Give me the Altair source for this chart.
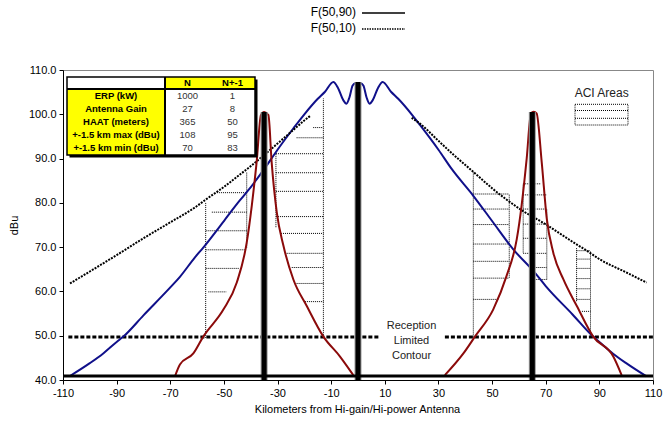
import altair as alt
import pandas as pd

FONT = "Liberation Sans"

# ---------------- field-strength curves (km, dBu) ----------------
# Hi-gain / hi-power station N at 0 km, F(50,90)
blue_km = [-107.4, -100, -95, -90, -87.5, -80, -70, -66.4, -60.8, -57.7, -50, -44, -41.5,
           -35, -30, -24, -20, -15, -12.3, -9.2, -7.5, -5.5, -4.3, -3.2, -2, -1, 0,
           1, 2, 3.2, 4.3, 5.5, 7.5, 9.2, 12.3, 15, 20, 23.1, 30, 35, 43, 50, 57.9,
           66, 70, 80, 87.7, 90, 95, 100, 107.6]
blue_dbu = [40.9, 43.8, 46.0, 48.6, 49.8, 54.6, 60.9, 63.3, 67.7, 69.9, 75.9, 80.6, 82.4,
            87.6, 92.0, 96.9, 100.0, 103.5, 105.1, 107.3, 106.0, 103.2, 102.4, 103.8, 106.5, 107.0, 107.0,
            107.0, 106.5, 103.8, 102.4, 103.2, 106.0, 107.3, 105.1, 103.5, 100.0, 97.6, 92.0, 87.6, 81.6, 75.9, 69.5,
            64.2, 61.2, 54.8, 49.8, 48.6, 46.0, 43.8, 40.8]

# Station N, F(50,10) (two branches)
f10_left_km = [-107.4, -100, -90, -80, -70, -60.7, -56.4, -50, -44, -40, -35, -30, -25, -20, -17.9]
f10_left_dbu = [61.8, 64.5, 68.2, 72.0, 75.6, 79.0, 80.9, 83.6, 86.4, 88.3, 90.8, 93.4, 96.0, 98.6, 99.6]
f10_right_km = [20, 23.1, 30, 35, 43, 50, 60.4, 70.4, 80, 85.3, 90, 100, 107.6]
f10_right_dbu = [99.2, 97.9, 94.0, 91.2, 87.0, 83.3, 78.6, 75.0, 71.2, 69.2, 67.3, 64.3, 62.0]

# N-1 station at -35 km, F(50,90)
red_left_km = [-68.2, -66.4, -61.4, -57.7, -50.2, -45.2, -41.5, -39.6, -37.8, -36.2, -35,
               -33.4, -32.2, -30.3, -27.8, -24.1, -19.1, -12.9, -6.7, -1.75]
red_left_dbu = [40.9, 43.5, 46.0, 49.8, 55.9, 62.0, 71.0, 79.4, 89.2, 99.8, 100.5,
                99.8, 89.2, 77.9, 70.3, 62.7, 56.7, 49.8, 45.3, 41.1]

# N+1 station at +65 km, F(50,90)
red_right_km = [32.4, 39.3, 43.6, 50.4, 55.4, 59.2, 61, 62.9, 64.5, 65.5, 66.6, 68.5,
                70.4, 72.8, 76.6, 81.6, 87.7, 95.2, 98.3]
red_right_dbu = [41.1, 46.0, 49.8, 55.9, 63.5, 71.8, 79.4, 90.0, 100.2, 100.6, 100.2, 89.2,
                 76.4, 68.8, 62.7, 56.7, 49.8, 45.3, 41.1]

# Antenna positions and their peak levels
station_km = [-35, 0, 65]
station_top = [100.5, 107.3, 100.5]
baseline_dbu = 40.9

# Reception limited contour
contour_dbu = 49.7
contour_x1 = [-108, 32.4]
contour_x2 = [8.2, 110]

# ACI areas: horizontal hatch segments
hatch_h_x1 = [-52.6, -54.5, -56.8, -56.8, -56.8, -55.8,
              -16.7, -22.9, -30.6, -30.6, -30.6, -30.6, -28.7, -26.6, -24.7, -22.9, -19.8,
              43, 43, 43, 43, 43, 43, 43,
              61.6, 61.6, 61.6, 61.6, 61.6, 61.6, 65.0, 65.0,
              81.5, 81.5, 81.5, 81.5, 81.5, 81.5, 83.5]
hatch_h_x2 = [-41.5, -41.5, -41.5, -42.0, -44.3, -49.0,
              -12.9, -12.9, -12.9, -12.9, -12.9, -12.9, -12.9, -12.9, -12.9, -12.9, -12.9,
              56.4, 56.4, 56.4, 56.4, 56.4, 56.4, 52.3,
              68.0, 70.4, 70.4, 70.4, 70.4, 70.4, 70.4, 70.4,
              86.7, 86.7, 86.7, 86.7, 86.7, 86.7, 86.7]
hatch_h_y = [82.3, 77.9, 73.7, 69.4, 65.2, 59.9,
             97.0, 94.7, 91.1, 86.8, 82.6, 76.9, 73.1, 68.6, 65.4, 61.8, 57.7,
             82.0, 78.6, 75.1, 70.7, 66.8, 63.0, 58.2,
             84.3, 81.8, 78.6, 75.2, 72.0, 68.6, 65.4, 62.7,
             69.2, 67.3, 65.2, 62.9, 60.6, 58.2, 55.5]
# ACI areas: vertical edges
hatch_v_x = [-56.8, -41.5, -30.6, -12.9, 43, 56.4, 61.6, 70.4, 81.5, 86.7]
hatch_v_y1 = [49.5, 69.9, 74.5, 50.2, 49.8, 63.1, 68.8, 62.7, 57.8, 49.8]
hatch_v_y2 = [80.2, 87.0, 91.1, 103.6, 87.0, 82.0, 84.3, 78.6, 69.9, 69.2]

# Parameter table
table_rows = ["ERP (kW)", "Antenna Gain", "HAAT (meters)", "+-1.5 km max (dBu)", "+-1.5 km min (dBu)"]
table_n = ["1000", "27", "365", "108", "70"]
table_n1 = ["1", "8", "50", "95", "83"]
table_head = ["N", "N+-1"]

# ---------------- scales / helpers ----------------
X_MIN, X_MAX = -110, 110
Y_MIN, Y_MAX = 40, 110
W, H = 590, 310


def km(px):
    """horizontal offset (px) inside the plot -> km"""
    return X_MIN + px / W * (X_MAX - X_MIN)


def db(py):
    """vertical offset (px) from the plot top -> dBu"""
    return Y_MAX - py / H * (Y_MAX - Y_MIN)


x_scale = alt.Scale(domain=[X_MIN, X_MAX], nice=False, zero=False)
y_scale = alt.Scale(domain=[Y_MIN, Y_MAX], nice=False, zero=False)

x_axis = alt.Axis(values=list(range(-110, 111, 20)), title="Kilometers from Hi-gain/Hi-power Antenna",
                  labelExpr="'' + datum.value",
                  grid=False, labelFont=FONT, labelFontSize=11, labelColor="#000", labelPadding=3,
                  tickSize=4, tickColor="#000", domainColor="#000", titleFont=FONT, titleFontSize=11,
                  titleFontWeight="normal", titleColor="#000", titleX=294, titleY=29,
                  titleBaseline="middle", labelFlush=False, labelOverlap=False)
y_axis = alt.Axis(values=list(range(40, 111, 10)), format=".1f", title="dBu", grid=False,
                  labelFont=FONT, labelFontSize=11, labelColor="#000", labelPadding=3,
                  tickSize=4, tickColor="#000", domainColor="#000", titleFont=FONT, titleFontSize=11,
                  titleFontWeight="normal", titleColor="#000", titleX=-49, titleY=155,
                  titleAngle=270, titleAlign="center", titleBaseline="middle",
                  labelFlush=False, labelOverlap=False)


def X(f):
    return alt.X(f"{f}:Q", scale=x_scale, axis=x_axis)


def Y(f):
    return alt.Y(f"{f}:Q", scale=y_scale, axis=y_axis)


def curve(xs, ys, name):
    return pd.DataFrame({"x": xs, "y": ys, "s": name})


# ---------------- layers ----------------
hatch_h = alt.Chart(pd.DataFrame({"x": hatch_h_x1, "x2": hatch_h_x2, "y": hatch_h_y})).mark_rule(
    color="#000", strokeWidth=1, strokeDash=[1, 1]).encode(x=X("x"), x2="x2", y=Y("y"))
hatch_v = alt.Chart(pd.DataFrame({"x": hatch_v_x, "y": hatch_v_y1, "y2": hatch_v_y2})).mark_rule(
    color="#000", strokeWidth=1, strokeDash=[1, 1]).encode(x=X("x"), y=Y("y"), y2="y2")

contour = alt.Chart(pd.DataFrame({"x": contour_x1, "x2": contour_x2, "y": [contour_dbu] * 2})).mark_rule(
    color="#000", strokeWidth=3, strokeDash=[4, 2]).encode(x=X("x"), x2="x2", y=Y("y"))

contour_label = alt.Chart(pd.DataFrame({"t": ["Reception", "Limited", "Contour"],
                                        "x": [km(348.5)] * 3,
                                        "y": [db(255.7), db(271), db(285.7)]})).mark_text(
    font=FONT, fontSize=11, color="#222", align="center", baseline="middle").encode(
    x=X("x"), y=Y("y"), text="t:N")

blue = alt.Chart(curve(blue_km, blue_dbu, "N")).mark_line(
    color="#10108a", strokeWidth=2, interpolate="monotone").encode(x=X("x"), y=Y("y"))

f10 = alt.Chart(pd.concat([curve(f10_left_km, f10_left_dbu, "L"),
                           curve(f10_right_km, f10_right_dbu, "R")])).mark_line(
    color="#000", strokeWidth=2, strokeDash=[2, 1.2], interpolate="monotone").encode(
    x=X("x"), y=Y("y"), detail="s:N")

red = alt.Chart(pd.concat([curve(red_left_km, red_left_dbu, "N-1"),
                           curve(red_right_km, red_right_dbu, "N+1")])).mark_line(
    color="#8b0a0a", strokeWidth=2, interpolate="monotone").encode(
    x=X("x"), y=Y("y"), detail="s:N")

stations_df = pd.DataFrame({"x": station_km, "y": [Y_MIN] * 3, "y2": station_top})
bars_edge = alt.Chart(stations_df).mark_rule(color="#9a9a9a", strokeWidth=7).encode(
    x=X("x"), y=Y("y"), y2="y2")
bars = alt.Chart(stations_df).mark_rule(color="#000", strokeWidth=5).encode(
    x=X("x"), y=Y("y"), y2="y2")

baseline = alt.Chart(pd.DataFrame({"x": [X_MIN], "x2": [X_MAX], "y": [baseline_dbu]})).mark_rule(
    color="#000", strokeWidth=3).encode(x=X("x"), x2="x2", y=Y("y"))

# ---------------- parameter table ----------------
T_L, T_C1, T_C2, T_R = 4, 102, 147, 192
T_TOP, T_HEAD, T_BOT = 7, 19, 85
row_h = (T_BOT - T_HEAD) / len(table_rows)

cells = pd.DataFrame({
    "x": [km(T_L + 2.5), km(T_L), km(T_C1), km(T_L), km(T_C1)],
    "x2": [km(T_R + 2.5), km(T_C1), km(T_R), km(T_C1), km(T_R)],
    "y": [db(T_TOP + 2.5), db(T_TOP), db(T_TOP), db(T_HEAD), db(T_HEAD)],
    "y2": [db(T_BOT + 2.5), db(T_HEAD), db(T_HEAD), db(T_BOT), db(T_BOT)],
    "c": ["#000", "#fff", "#ffff00", "#ffff00", "#fff"],
})
table_cells = alt.Chart(cells).mark_rect().encode(
    x=X("x"), x2="x2", y=Y("y"), y2="y2", color=alt.Color("c:N", scale=None))
table_frame = alt.Chart(pd.DataFrame({"x": [km(T_L)], "x2": [km(T_R)],
                                      "y": [db(T_TOP)], "y2": [db(T_BOT)]})).mark_rect(
    fill=None, stroke="#000", strokeWidth=1.5).encode(x=X("x"), x2="x2", y=Y("y"), y2="y2")
table_hline = alt.Chart(pd.DataFrame({"x": [km(T_L)], "x2": [km(T_R)], "y": [db(T_HEAD)]})).mark_rule(
    color="#000", strokeWidth=2).encode(x=X("x"), x2="x2", y=Y("y"))
table_vline = alt.Chart(pd.DataFrame({"x": [km(T_C1)], "y": [db(T_TOP)], "y2": [db(T_BOT)]})).mark_rule(
    color="#000", strokeWidth=2).encode(x=X("x"), y=Y("y"), y2="y2")

row_y = [db(T_HEAD + row_h * (i + 0.5)) for i in range(len(table_rows))]
bold_text = pd.DataFrame({
    "t": table_head + table_rows,
    "x": [km((T_C1 + T_C2) / 2), km((T_C2 + T_R) / 2)] + [km((T_L + T_C1) / 2)] * len(table_rows),
    "y": [db((T_TOP + T_HEAD) / 2)] * 2 + row_y,
})
table_bold = alt.Chart(bold_text).mark_text(
    font=FONT, fontSize=9.5, fontWeight="bold", color="#000", align="center", baseline="middle").encode(
    x=X("x"), y=Y("y"), text="t:N")
val_text = pd.DataFrame({
    "t": table_n + table_n1,
    "x": [km((T_C1 + T_C2) / 2)] * len(table_n) + [km((T_C2 + T_R) / 2)] * len(table_n1),
    "y": row_y + row_y,
})
table_vals = alt.Chart(val_text).mark_text(
    font=FONT, fontSize=9.5, color="#333", align="center", baseline="middle").encode(
    x=X("x"), y=Y("y"), text="t:N")

# ---------------- line-style legend (above the plot) ----------------
legend_text = alt.Chart(pd.DataFrame({"t": ["F(50,90)", "F(50,10)"],
                                      "x": [km(293)] * 2, "y": [db(-58), db(-42)]})).mark_text(
    font=FONT, fontSize=12, color="#000", align="right", baseline="middle").encode(
    x=X("x"), y=Y("y"), text="t:N")
legend_solid = alt.Chart(pd.DataFrame({"x": [km(299)], "x2": [km(342)], "y": [db(-57)]})).mark_rule(
    color="#000", strokeWidth=1.5).encode(x=X("x"), x2="x2", y=Y("y"))
legend_dot = alt.Chart(pd.DataFrame({"x": [km(299)], "x2": [km(342)], "y": [db(-41)]})).mark_rule(
    color="#000", strokeWidth=1.5, strokeDash=[1.5, 1]).encode(x=X("x"), x2="x2", y=Y("y"))

# ---------------- ACI areas key ----------------
aci_text = alt.Chart(pd.DataFrame({"t": ["ACI Areas"], "x": [km(538.7)], "y": [db(22.7)]})).mark_text(
    font=FONT, fontSize=12, color="#222", align="center", baseline="middle").encode(
    x=X("x"), y=Y("y"), text="t:N")
aci_box = alt.Chart(pd.DataFrame({"x": [km(512)], "x2": [km(565)], "y": [db(34.3)], "y2": [db(55)]})).mark_rect(
    fill=None, stroke="#000", strokeWidth=1, strokeDash=[1, 1]).encode(x=X("x"), x2="x2", y=Y("y"), y2="y2")
aci_lines = alt.Chart(pd.DataFrame({"x": [km(512)] * 2, "x2": [km(565)] * 2, "y": [db(40.5), db(48.3)]})).mark_rule(
    color="#000", strokeWidth=1, strokeDash=[1, 1]).encode(x=X("x"), x2="x2", y=Y("y"))

chart = alt.layer(
    hatch_h, hatch_v, contour, contour_label, blue, f10, red, bars_edge, bars, baseline,
    table_cells, table_frame, table_hline, table_vline, table_bold, table_vals,
    legend_text, legend_solid, legend_dot, aci_text, aci_box, aci_lines,
).properties(
    width=W, height=H,
    padding={"left": 63, "top": 70, "right": 10, "bottom": 46},
    autosize=alt.AutoSizeParams(type="none"),
    background="#ffffff",
).configure_view(stroke="#888888", strokeWidth=1)

chart.save("out.html", embed_options={"renderer": "svg", "actions": False})
